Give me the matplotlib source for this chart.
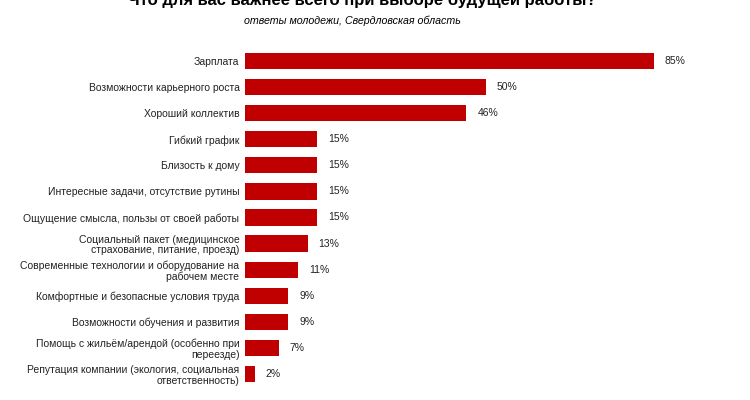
import matplotlib
matplotlib.use("Agg")
import matplotlib.pyplot as plt

plt.rcParams['font.family'] = ['Liberation Sans', 'DejaVu Sans']

categories = [
    "Зарплата",
    "Возможности карьерного роста",
    "Хороший коллектив",
    "Гибкий график",
    "Близость к дому",
    "Интересные задачи, отсутствие рутины",
    "Ощущение смысла, пользы от своей работы",
    "Социальный пакет (медицинское\nстрахование, питание, проезд)",
    "Современные технологии и оборудование на\nрабочем месте",
    "Комфортные и безопасные условия труда",
    "Возможности обучения и развития",
    "Помощь с жильём/арендой (особенно при\nпереезде)",
    "Репутация компании (экология, социальная\nответственность)",
]
values = [85, 50, 46, 15, 15, 15, 15, 13, 11, 9, 9, 7, 2]

title = "Что для вас важнее всего при выборе будущей работы?"
subtitle = "ответы молодежи, Свердловская область"

fig = plt.figure(figsize=(7.5, 4.0), dpi=100)
ax = fig.add_axes([245 / 750, 1 - 387 / 400, 481 / 750, 339 / 400])

pos = list(range(len(categories)))
ax.barh(pos, values, height=0.62, color="#C00000")
for p, v in zip(pos, values):
    ax.text(v + 2.3, p, f"{v}%", va="center", ha="left", fontsize=7.5, color="#222222")

ax.set_xlim(0, 100)
ax.set_ylim(len(categories) - 0.5, -0.5)
ax.set_yticks(pos)
ax.set_yticklabels(categories, fontsize=7.5, color="#222222", linespacing=1.1)
ax.tick_params(axis="y", length=0, pad=4)
ax.set_xticks([])
for s in ax.spines.values():
    s.set_visible(False)

# title sits partly above the top edge, as in the reference
fig.text(0.483, 1.0, title, ha="center", va="center", fontsize=12, fontweight="bold")
fig.text(0.47, 1 - 21 / 400, subtitle, ha="center", va="center", fontsize=7.7, style="italic")

fig.savefig("out.png", dpi=100)
